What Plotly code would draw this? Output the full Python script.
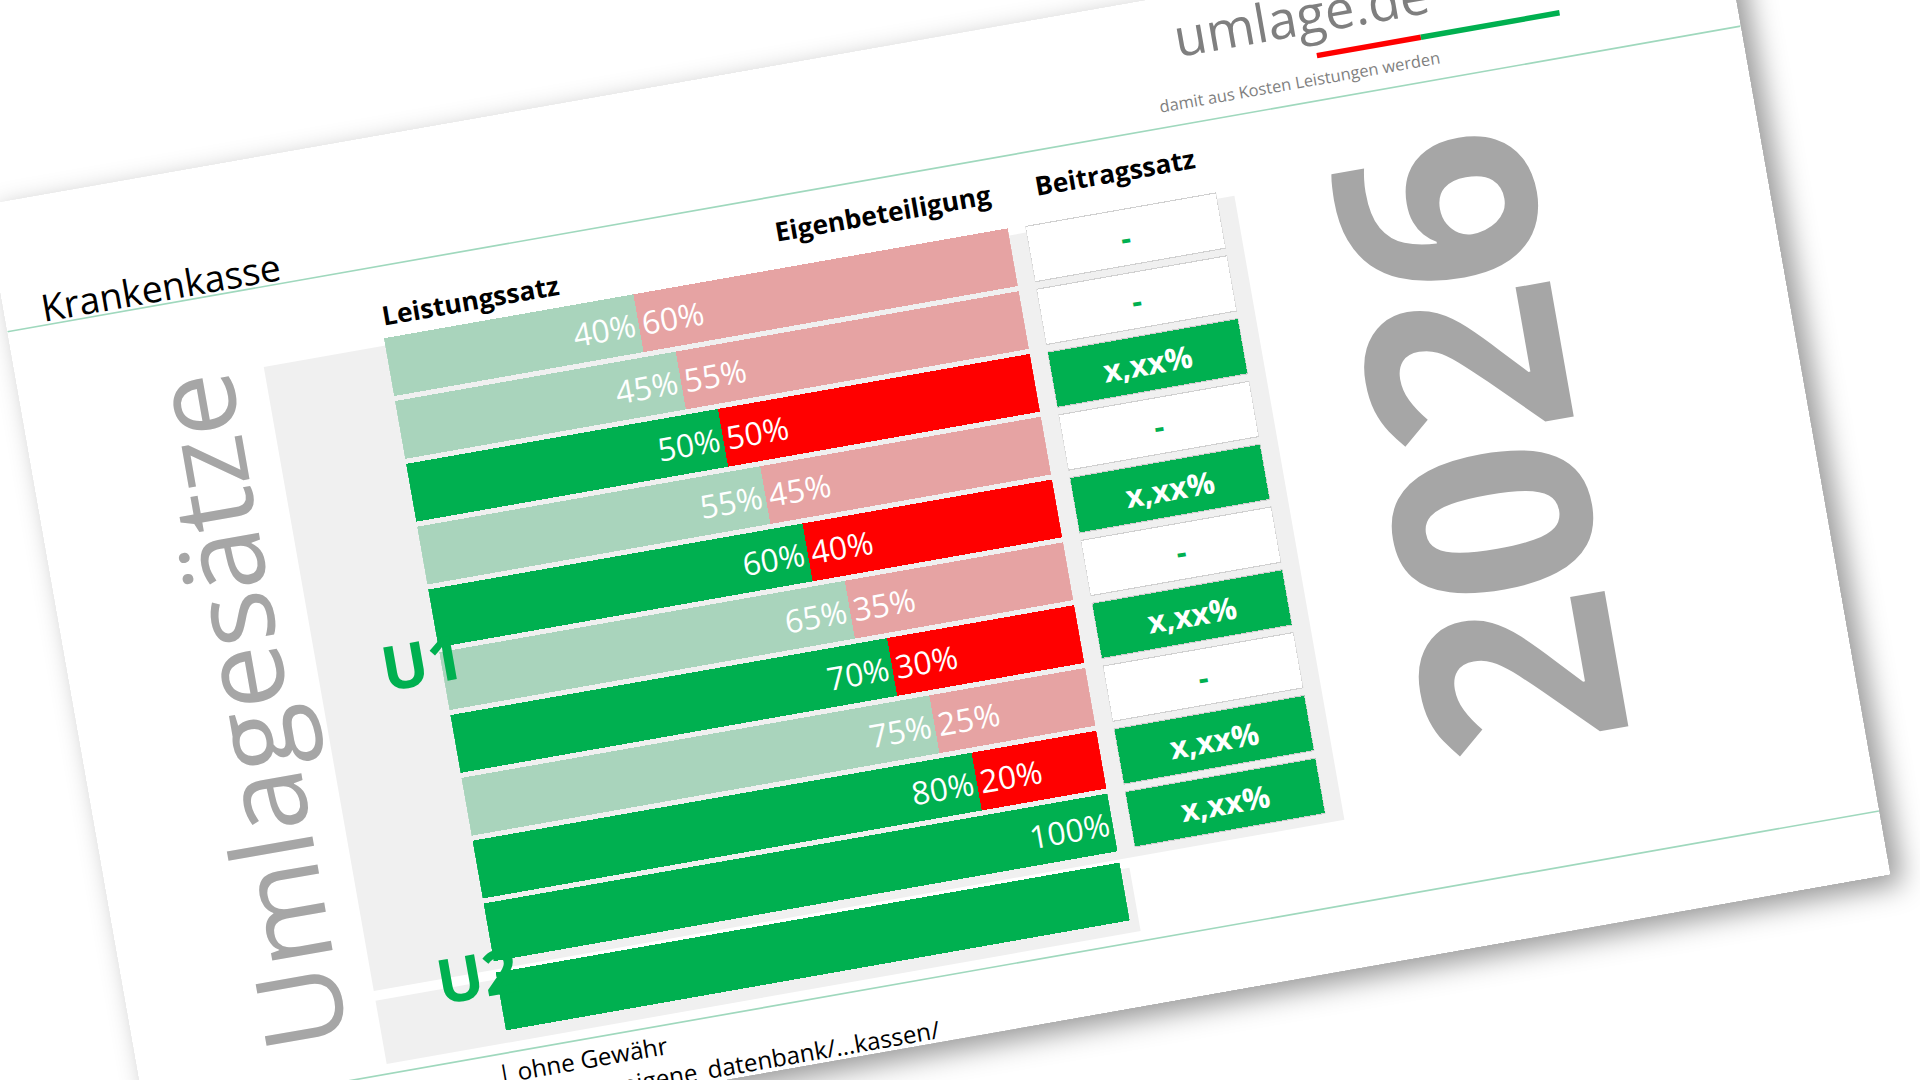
import plotly.graph_objects as go

rows = [0, 1, 2, 3, 4, 5, 6, 7, 8, 9, 10.1]
leistung = [40, 45, 50, 55, 60, 65, 70, 75, 80, 100, 100]
eigen = [60, 55, 50, 45, 40, 35, 30, 25, 20, 0, 0]
beitrag = ["-", "-", "x,xx%", "-", "x,xx%", "-", "x,xx%", "-", "x,xx%", "x,xx%", None]
leistung_text = ["40%", "45%", "50%", "55%", "60%", "65%", "70%", "75%", "80%", "100%", ""]
eigen_text = ["60%", "55%", "50%", "45%", "40%", "35%", "30%", "25%", "20%", "", ""]

GREEN, LGREEN, RED, LRED = "#00b050", "#a9d4bc", "#ff0000", "#e6a3a3"
strong = [b is None or b != "-" for b in beitrag]

fig = go.Figure()
fig.add_trace(go.Bar(
    y=rows, x=leistung, orientation="h", text=leistung_text,
    textposition="inside", insidetextanchor="end",
    textfont=dict(color="white", size=29, family="Open Sans"),
    marker=dict(color=[GREEN if s else LGREEN for s in strong], line_width=0),
    width=0.92, offset=-0.46, showlegend=False, hoverinfo="skip"))
fig.add_trace(go.Bar(
    y=rows, x=eigen, orientation="h", text=eigen_text,
    textposition="inside", insidetextanchor="start",
    textfont=dict(color="white", size=29, family="Open Sans"),
    marker=dict(color=[RED if s else LRED for s in strong], line_width=0),
    width=0.92, offset=-0.46, showlegend=False, hoverinfo="skip"))

b_rows = [r for r, b in zip(rows, beitrag) if b is not None]
b_vals = [b for b in beitrag if b is not None]
fig.add_trace(go.Bar(
    y=b_rows, x=[1] * len(b_rows), orientation="h", xaxis="x2", yaxis="y",
    text=[f"<b>{v}</b>" for v in b_vals],
    textposition="inside", insidetextanchor="middle",
    textfont=dict(color=[GREEN if v == "-" else "white" for v in b_vals], size=28, family="Open Sans"),
    marker=dict(color=["white" if v == "-" else GREEN for v in b_vals], line=dict(color="#d0d0d0", width=1)),
    width=0.88, offset=-0.44, showlegend=False, hoverinfo="skip"))

fig.update_layout(
    width=1600, height=900, barmode="stack",
    paper_bgcolor="white", plot_bgcolor="rgba(0,0,0,0)",
    margin=dict(l=0, r=0, t=0, b=0),
    font=dict(family="Open Sans", color="black"),
    xaxis=dict(domain=[0.21, 0.57], range=[0, 100], visible=False),
    xaxis2=dict(domain=[0.58, 0.69], range=[0, 1], visible=False, anchor="y"),
    yaxis=dict(domain=[0.085, 0.8], range=[10.6, -0.5], visible=False),
    shapes=[
        dict(type="rect", xref="paper", yref="paper", x0=0.14, x1=0.7, y0=0.15, y1=0.79,
             fillcolor="#f0f0f0", line_width=0, layer="below"),
        dict(type="rect", xref="paper", yref="paper", x0=0.14, x1=0.575, y0=0.075, y1=0.14,
             fillcolor="#f0f0f0", line_width=0, layer="below"),
        dict(type="line", xref="paper", yref="paper", x0=0, x1=1, y0=0.87, y1=0.87,
             line=dict(color="#9fd8bd", width=1.5)),
        dict(type="line", xref="paper", yref="paper", x0=0, x1=1, y0=0.065, y1=0.065,
             line=dict(color="#9fd8bd", width=1.5)),
        dict(type="line", xref="paper", yref="paper", x0=0.76, x1=0.82, y0=0.915, y1=0.915,
             line=dict(color="#ff0000", width=5)),
        dict(type="line", xref="paper", yref="paper", x0=0.82, x1=0.9, y0=0.915, y1=0.915,
             line=dict(color="#00b050", width=5)),
    ],
    annotations=[
        dict(text="Krankenkasse", x=0.02, y=0.915, xref="paper", yref="paper", xanchor="left",
             showarrow=False, font=dict(size=34)),
        dict(text="<b>Leistungssatz</b>", x=0.21, y=0.8, xref="paper", yref="paper", xanchor="left",
             yanchor="bottom", showarrow=False, font=dict(size=24)),
        dict(text="<b>Eigenbeteiligung</b>", x=0.565, y=0.815, xref="paper", yref="paper", xanchor="right",
             yanchor="bottom", showarrow=False, font=dict(size=24)),
        dict(text="<b>Beitragssatz</b>", x=0.635, y=0.815, xref="paper", yref="paper",
             yanchor="bottom", showarrow=False, font=dict(size=24)),
        dict(text="<b>U1</b>", x=0.175, y=0.47, xref="paper", yref="paper", showarrow=False,
             font=dict(size=56, color=GREEN)),
        dict(text="<b>U2</b>", x=0.175, y=0.105, xref="paper", yref="paper", showarrow=False,
             font=dict(size=56, color=GREEN)),
        dict(text="Umlagesätze", x=0.05, y=0.45, xref="paper", yref="paper", textangle=-90,
             showarrow=False, font=dict(size=104, color="#a6a6a6")),
        dict(text="<b>2026</b>", x=0.915, y=0.5, xref="paper", yref="paper", textangle=-90,
             showarrow=False, font=dict(size=250, color="#a6a6a6")),
        dict(text="umlage.de", x=0.83, y=0.92, xref="paper", yref="paper", yanchor="bottom",
             showarrow=False, font=dict(size=48, color="#7f7f7f")),
        dict(text="damit aus Kosten Leistungen werden", x=0.83, y=0.905, xref="paper", yref="paper",
             yanchor="top", showarrow=False, font=dict(size=15, color="#7f7f7f")),
        dict(text="| ohne Gewähr<br>..lage.de/...eigene_datenbank/...kassen/", x=0.2, y=0.065,
             xref="paper", yref="paper", xanchor="left", yanchor="top", align="left", showarrow=False,
             font=dict(size=22)),
        dict(text="Stand:", x=0.09, y=0.025, xref="paper", yref="paper", xanchor="left",
             showarrow=False, font=dict(size=20)),
    ],
)

fig.write_html(
    "out.html",
    config={"displayModeBar": False},
    post_script="var d=document.getElementById('{plot_id}');"
                "d.style.transform='translate(-15px,205px) rotate(-10deg) scale(1.1)';"
                "d.style.transformOrigin='0 0';d.style.boxShadow='10px 10px 25px #999';"
                "document.body.style.overflow='hidden';document.body.style.margin='0';",
)
